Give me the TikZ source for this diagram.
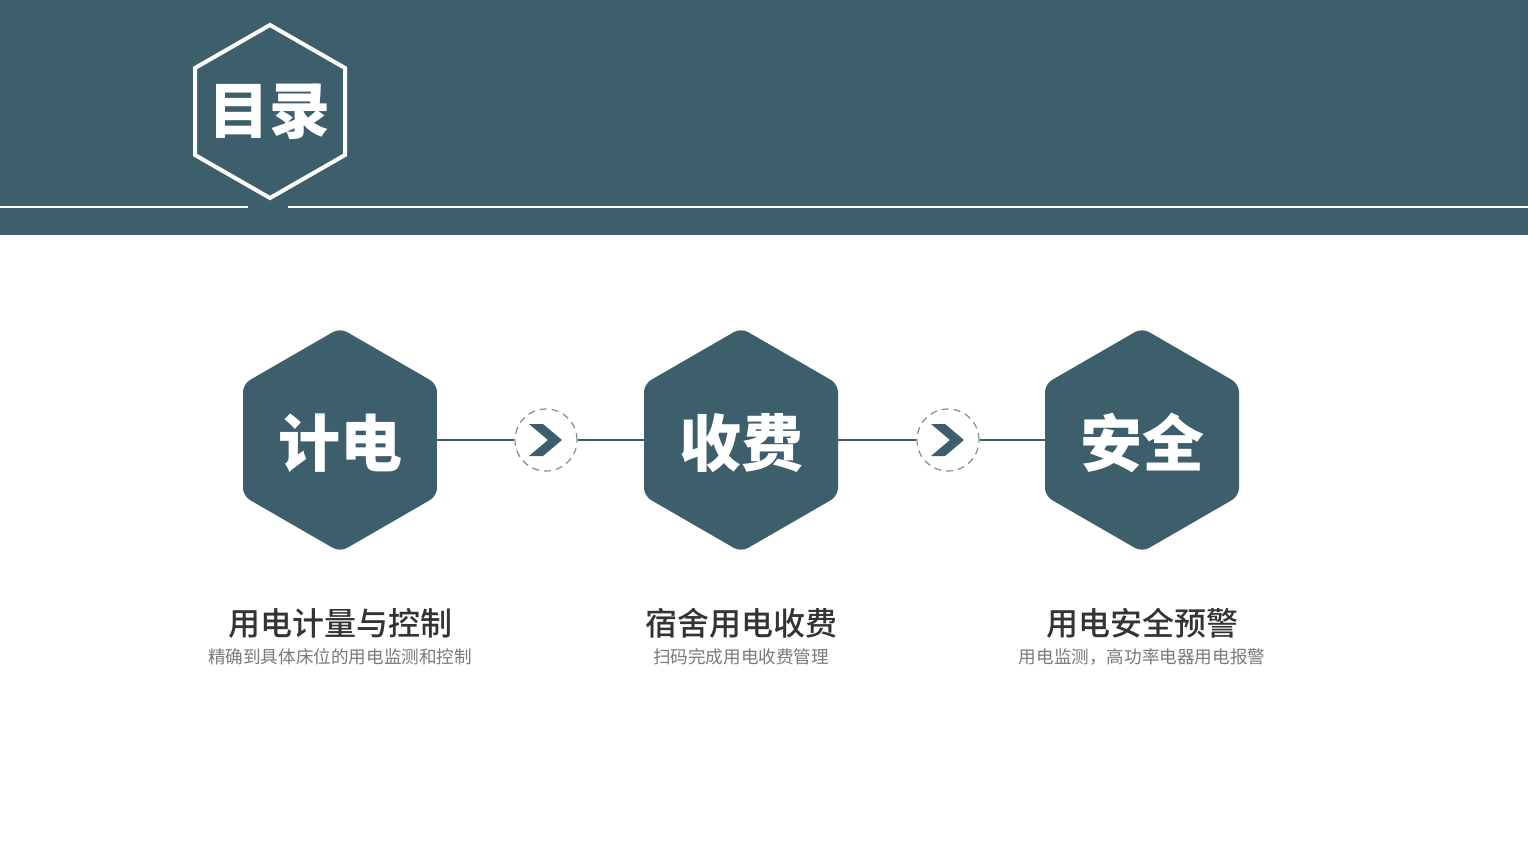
\documentclass[tikz,border=0pt]{standalone}
\usepackage{fontspec}
\setmainfont{Noto Sans CJK SC}
\newfontfamily\cjkblack{Noto Sans CJK SC Black}
\newfontfamily\cjkmed{Noto Sans CJK SC Medium}
\usetikzlibrary{shapes.geometric}
\definecolor{teal}{HTML}{3D5F6B}
\definecolor{titlegray}{HTML}{333333}
\definecolor{subgray}{HTML}{7A7A7A}
\definecolor{dashgray}{HTML}{8A8A8A}
\begin{document}
\begin{tikzpicture}[x=0.5pt,y=-0.5pt,
  bighex/.style={regular polygon, regular polygon sides=6, shape border rotate=30, minimum size=224*0.5pt, fill=teal, rounded corners=8*0.5pt, inner sep=0pt},
  hexlabel/.style={text=white, font=\cjkblack\fontsize{31pt}{31pt}\selectfont},
  ring/.style={circle, draw=dashgray, dashed, dash pattern=on 3.5pt off 2.5pt, line width=0.6pt, minimum size=62*0.5pt, inner sep=0pt, fill=white},
  link/.style={draw=teal, line width=1pt},
  title/.style={text=titlegray, font=\cjkmed\fontsize{16pt}{16pt}\selectfont},
  sub/.style={text=subgray, font=\fontsize{8.8pt}{9pt}\selectfont}]
\useasboundingbox (0,0) rectangle (1528,852);
\fill[white] (0,0) rectangle (1528,852);
% top band
\fill[teal] (0,0) rectangle (1528,235);
\draw[white, line width=1pt] (0,207) -- (248,207);
\draw[white, line width=1pt] (288,207) -- (1528,207);
\draw[white, line width=2pt, line join=miter] (270,25) -- (345,68) -- (345,155) -- (270,198) -- (195,155) -- (195,68) -- cycle;
\node[text=white, font=\cjkblack\fontsize{30.5pt}{30.5pt}\selectfont] (mulu) at (269,112) {目录};
% hexagons
\node[bighex] (h1) at (340,440) {};
\node[bighex] (h2) at (741,440) {};
\node[bighex] (h3) at (1142,440) {};
\node[hexlabel] (t1) at (340,443) {计电};
\node[hexlabel] (t2) at (741,443) {收费};
\node[hexlabel] (t3) at (1142,443) {安全};
% rings
\node[ring] (r1) at (546,440) {};
\node[ring] (r2) at (948,440) {};
\draw[link] (h1.east) -- (r1.west);
\draw[link] (r1.east) -- (h2.west);
\draw[link] (h2.east) -- (r2.west);
\draw[link] (r2.east) -- (h3.west);
% chevrons
\foreach \c in {r1,r2}{
  \fill[teal] ([shift={(-17,-16)}]\c.center) -- ([shift={(-3,-16)}]\c.center) -- ([shift={(16,0)}]\c.center) -- ([shift={(-3,16)}]\c.center) -- ([shift={(-17,16)}]\c.center) -- ([shift={(2,0)}]\c.center) -- cycle;
}
% texts
\node[title] (a1) at (340,623) {用电计量与控制};
\node[title] (a2) at (741,623) {宿舍用电收费};
\node[title] (a3) at (1142,623) {用电安全预警};
\node[sub] (b1) at (340,657) {精确到具体床位的用电监测和控制};
\node[sub] (b2) at (741,657) {扫码完成用电收费管理};
\node[sub] (b3) at (1142,657) {用电监测，高功率电器用电报警};
\end{tikzpicture}
\end{document}
